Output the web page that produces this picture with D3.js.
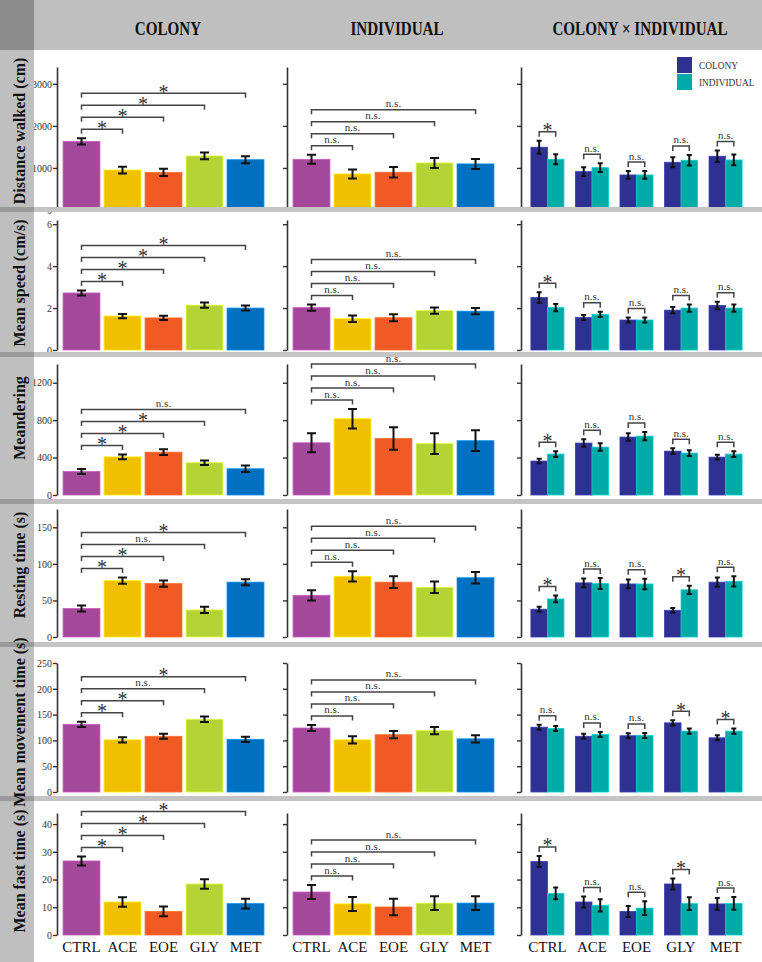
<!DOCTYPE html>
<html>
<head>
<meta charset="utf-8">
<script src="https://cdn.jsdelivr.net/npm/d3@7"></script>
<style>
  html, body { margin: 0; padding: 0; background: #fff; }
  svg { display: block; font-family: 'Liberation Serif', 'Times New Roman', serif; }
</style>
</head>
<body>
<svg id="chart" width="762" height="962"></svg>
<script>
const groups = ['CTRL', 'ACE', 'EOE', 'GLY', 'MET'];
const groupColors = ['#a4489b', '#f0c000', '#f15a24', '#b5d335', '#0071c1'];
const sources = ['COLONY', 'INDIVIDUAL'];
const sourceColors = ['#2e3192', '#00aaa6'];
const columnTitles = ['COLONY', 'INDIVIDUAL', 'COLONY \u00d7 INDIVIDUAL'];
const rowTitles = ['Distance walked (cm)', 'Mean speed (cm/s)', 'Meandering',
  'Resting time (s)', 'Mean movement time (s)', 'Mean fast time (s)'];
const rowMax = [3400, 6.2, 1400, 175, 250, 44];
const rowTicks = [
  [0, 1000, 2000, 3000],
  [0, 2, 4, 6],
  [0, 400, 800, 1200],
  [0, 50, 100, 150],
  [0, 50, 100, 150, 200, 250],
  [0, 10, 20, 30, 40]
];

// colony effect (mean, error, significance vs CTRL)
const colonyMean = [
  [1630, 950, 895, 1285, 1195],
  [2.72, 1.62, 1.53, 2.14, 2.0],
  [251, 407, 458, 345, 280],
  [39, 77, 73, 37, 75],
  [131, 101, 108, 141, 102],
  [26.7, 11.9, 8.5, 18.4, 11.3]
];
const colonyErr = [
  [75, 80, 85, 80, 85],
  [0.12, 0.1, 0.1, 0.12, 0.12],
  [27, 25, 31, 25, 35],
  [4, 4.3, 4.3, 4.3, 4.1],
  [5.2, 5, 5, 5.5, 5],
  [1.6, 1.7, 1.75, 1.75, 1.75]
];
const colonySig = [
  ['*', '*', '*', '*'],
  ['*', '*', '*', '*'],
  ['*', '*', '*', 'n.s.'],
  ['*', '*', 'n.s.', '*'],
  ['*', '*', 'n.s.', '*'],
  ['*', '*', '*', '*']
];

// individual effect
const individualMean = [
  [1205, 857, 898, 1119, 1095],
  [2.02, 1.49, 1.54, 1.88, 1.85],
  [558, 815, 603, 550, 580],
  [57, 83, 75, 68, 81],
  [124, 101, 111, 119, 103],
  [15.5, 11.2, 10.1, 11.5, 11.5]
];
const individualErr = [
  [107, 107, 127, 119, 119],
  [0.15, 0.15, 0.17, 0.15, 0.15],
  [102, 104, 120, 111, 111],
  [7, 7, 8, 8, 8],
  [6, 7, 7, 7, 7],
  [2.5, 2.5, 3, 2.5, 2.5]
];
const individualSig = [
  ['n.s.', 'n.s.', 'n.s.', 'n.s.'],
  ['n.s.', 'n.s.', 'n.s.', 'n.s.'],
  ['n.s.', 'n.s.', 'n.s.', 'n.s.'],
  ['n.s.', 'n.s.', 'n.s.', 'n.s.'],
  ['n.s.', 'n.s.', 'n.s.', 'n.s.'],
  ['n.s.', 'n.s.', 'n.s.', 'n.s.']
];

// colony x individual
const crossColonyMean = [
  [1493, 912, 833, 1135, 1278],
  [2.5, 1.55, 1.43, 1.9, 2.12],
  [363, 555, 619, 469, 405],
  [38, 74, 72.5, 36.5, 75],
  [125.6, 108, 109, 134, 105],
  [26.5, 11.9, 8.5, 18.4, 11.2]
];
const crossColonyErr = [
  [155, 103, 92, 119, 135],
  [0.25, 0.12, 0.12, 0.15, 0.18],
  [25, 40, 40, 30, 25],
  [3.4, 6, 6, 3, 6.2],
  [4.8, 4.8, 4.8, 5, 4.8],
  [2, 2, 2, 2, 2.1]
];
const crossIndividualMean = [
  [1207, 1007, 833, 1183, 1190],
  [2.02, 1.7, 1.43, 2.0, 2.0],
  [437, 512, 629, 448, 437],
  [52, 73, 72.5, 64.5, 76],
  [123, 111.5, 109.5, 118, 118],
  [15, 10.7, 9.7, 11.3, 11.4]
];
const crossIndividualErr = [
  [119, 103, 92, 127, 127],
  [0.17, 0.13, 0.12, 0.17, 0.17],
  [30, 40, 45, 30, 30],
  [4.6, 7.5, 7.3, 5.7, 7],
  [4.8, 4.8, 5, 5, 5],
  [2.1, 2.2, 2.5, 2.3, 2.3]
];
const crossSig = [
  ['*', 'n.s.', 'n.s.', 'n.s.', 'n.s.'],
  ['*', 'n.s.', 'n.s.', 'n.s.', 'n.s.'],
  ['*', 'n.s.', 'n.s.', 'n.s.', 'n.s.'],
  ['*', 'n.s.', 'n.s.', '*', 'n.s.'],
  ['n.s.', 'n.s.', 'n.s.', '*', '*'],
  ['*', 'n.s.', 'n.s.', '*', 'n.s.']
];

// layout
const W = 762, H = 962;
const LEFT = 34, HEAD = 50;
const rowZeroY = [210, 350, 495, 637, 792, 935];
const rowTopY = [67, 220, 364, 509, 663, 813];
const bands = [207, 352, 499, 642, 796];   // separator tops, 5px tall
const rowLabelY = [131, 283, 418, 565, 722, 871];
const axisX = [57, 287, 521];
const titleX = [168, 397, 640];

const svg = d3.select('#chart');
svg.append('rect').attr('width', W).attr('height', H).attr('fill', '#fff');

const xPanel = [
  d3.scaleBand().domain(groups).range([61, 266]).paddingInner(0.1).paddingOuter(0.05),
  d3.scaleBand().domain(groups).range([291, 496]).paddingInner(0.1).paddingOuter(0.05),
  d3.scaleBand().domain(groups).range([522, 751]).paddingInner(0.258).paddingOuter(0.2)
];
const xSub = d3.scaleBand().domain(sources).range([0, xPanel[2].bandwidth()]);
const color = d3.scaleOrdinal().domain(groups).range(groupColors);
const srcColor = d3.scaleOrdinal().domain(sources).range(sourceColors);

const plots = svg.append('g');

function sigLabel(g, txt, x, y) {
  const star = txt === '*';
  g.append('text')
    .attr('x', x).attr('y', star ? y + 5.5 : y - 2.5)
    .attr('text-anchor', 'middle')
    .attr('font-size', star ? 20 : 11)
    .attr('fill', '#333')
    .text(txt);
}

function bracket(g, x0, x1, y, drop) {
  g.append('path')
    .attr('d', `M${x0},${y + drop}V${y}H${x1}V${y + drop}`)
    .attr('fill', 'none').attr('stroke', '#444').attr('stroke-width', 1.5);
}

function errorBar(g, cx, y, mean, err, half) {
  const top = y(mean + err), bot = y(mean - err);
  g.append('path')
    .attr('d', `M${cx},${top}V${bot}M${cx - half},${top}H${cx + half}M${cx - half},${bot}H${cx + half}`)
    .attr('fill', 'none').attr('stroke', '#111').attr('stroke-width', 2);
}

function drawAxis(g, y, r, col) {
  const ax = d3.axisLeft(y).tickValues(rowTicks[r]).tickSize(4).tickPadding(1).tickSizeOuter(0)
    .tickFormat(col > 0 ? '' : d => String(d));
  const a = g.append('g').attr('transform', `translate(${axisX[col]},0)`).call(ax);
  a.attr('font-family', null).attr('font-size', null);
  a.select('.domain').attr('stroke', '#333').attr('stroke-width', 1.6);
  a.selectAll('.tick line').attr('stroke', '#333').attr('stroke-width', 1.4);
  a.selectAll('.tick text').attr('fill', '#333').attr('font-size', 10);
}

function drawSingle(g, r, col, means, errs, sigs) {
  const x = xPanel[col];
  const y = d3.scaleLinear().domain([0, rowMax[r]]).range([rowZeroY[r], rowTopY[r]]);
  const data = groups.map((k, i) => ({ k, m: means[r][i], e: errs[r][i] }));
  g.append('g').selectAll('rect').data(data).join('rect')
    .attr('x', d => x(d.k)).attr('width', x.bandwidth())
    .attr('y', d => y(d.m)).attr('height', d => y(0) - y(d.m))
    .attr('fill', d => color(d.k))
    .attr('stroke', d => d3.color(color(d.k)).brighter(0.6)).attr('stroke-width', 0.8);
  data.forEach(d => errorBar(g, x(d.k) + x.bandwidth() / 2, y, d.m, d.e, 4.5));
  drawAxis(g, y, r, col);

  let level = Infinity;
  const cx0 = x(groups[0]) + x.bandwidth() / 2;
  sigs[r].forEach((s, i) => {
    const k = i + 1;
    const localTop = d3.min(d3.range(k + 1), j => y(data[j].m + data[j].e));
    level = Math.min(level - 12, localTop - 9);
    const cx1 = x(groups[k]) + x.bandwidth() / 2;
    bracket(g, cx0, cx1, level, 4.5);
    sigLabel(g, s, (cx0 + cx1) / 2, level);
  });
}

function drawCross(g, r) {
  const x = xPanel[2];
  const y = d3.scaleLinear().domain([0, rowMax[r]]).range([rowZeroY[r], rowTopY[r]]);
  groups.forEach((k, i) => {
    const vals = [
      { s: sources[0], m: crossColonyMean[r][i], e: crossColonyErr[r][i] },
      { s: sources[1], m: crossIndividualMean[r][i], e: crossIndividualErr[r][i] }
    ];
    const gg = g.append('g').attr('transform', `translate(${x(k)},0)`);
    gg.selectAll('rect').data(vals).join('rect')
      .attr('x', d => xSub(d.s)).attr('width', xSub.bandwidth())
      .attr('y', d => y(d.m)).attr('height', d => y(0) - y(d.m))
      .attr('fill', d => srcColor(d.s))
      .attr('stroke', d => d3.color(srcColor(d.s)).brighter(0.6)).attr('stroke-width', 0.8);
    vals.forEach(d => errorBar(gg, xSub(d.s) + xSub.bandwidth() / 2, y, d.m, d.e, 2.5));
    const level = d3.min(vals, d => y(d.m + d.e)) - 9;
    const c0 = xSub(sources[0]) + xSub.bandwidth() / 2;
    const c1 = xSub(sources[1]) + xSub.bandwidth() / 2;
    bracket(gg, c0, c1, level, 5);
    sigLabel(gg, crossSig[r][i], (c0 + c1) / 2, level);
  });
  drawAxis(g, y, r, 2);

  if (r === 0) {
    const lg = g.append('g');
    sources.forEach((s, i) => {
      lg.append('rect').attr('x', 677).attr('y', 57 + i * 17).attr('width', 15).attr('height', 16)
        .attr('fill', srcColor(s));
      lg.append('text').attr('transform', `translate(699,${69 + i * 17}) scale(0.85,1)`)
        .attr('font-size', 11).attr('fill', '#333').text(s);
    });
  }
}

rowTitles.forEach((t, r) => {
  const g = plots.append('g');
  drawSingle(g, r, 0, colonyMean, colonyErr, colonySig);
  drawSingle(g, r, 1, individualMean, individualErr, individualSig);
  drawCross(g, r);
});

// x labels on the bottom row
const last = rowTitles.length - 1;
xPanel.forEach(x => {
  plots.append('g').selectAll('text').data(groups).join('text')
    .attr('x', d => x(d) + x.bandwidth() / 2)
    .attr('y', rowZeroY[last] + 17)
    .attr('text-anchor', 'middle').attr('font-size', 15).attr('fill', '#111')
    .text(d => d);
});

// frame: header, left column, row separators
const frame = svg.append('g');
frame.append('rect').attr('x', LEFT).attr('y', 0).attr('width', W - LEFT).attr('height', HEAD).attr('fill', '#bfbfbf');
frame.append('rect').attr('x', 0).attr('y', HEAD).attr('width', LEFT).attr('height', H - HEAD).attr('fill', '#bfbfbf');
frame.append('rect').attr('x', 0).attr('y', 0).attr('width', LEFT).attr('height', HEAD).attr('fill', '#8c8c8c');
bands.forEach(b => {
  frame.append('rect').attr('x', LEFT).attr('y', b).attr('width', W - LEFT).attr('height', 5).attr('fill', '#c4c4c4');
  frame.append('rect').attr('x', 0).attr('y', b).attr('width', LEFT).attr('height', 5).attr('fill', '#9a9a9a');
});

frame.selectAll('.col-title').data(columnTitles).join('text')
  .attr('class', 'col-title')
  .attr('transform', (d, i) => `translate(${titleX[i]},35) scale(0.84,1)`)
  .attr('text-anchor', 'middle').attr('font-size', 18).attr('font-weight', 'bold').attr('fill', '#111')
  .text(d => d);

frame.selectAll('.row-title').data(rowTitles).join('text')
  .attr('class', 'row-title')
  .attr('transform', (d, i) => `translate(25,${rowLabelY[i]}) rotate(-90)`)
  .attr('text-anchor', 'middle').attr('font-size', 16).attr('font-weight', 'bold').attr('fill', '#111')
  .text(d => d);
</script>
</body>
</html>
